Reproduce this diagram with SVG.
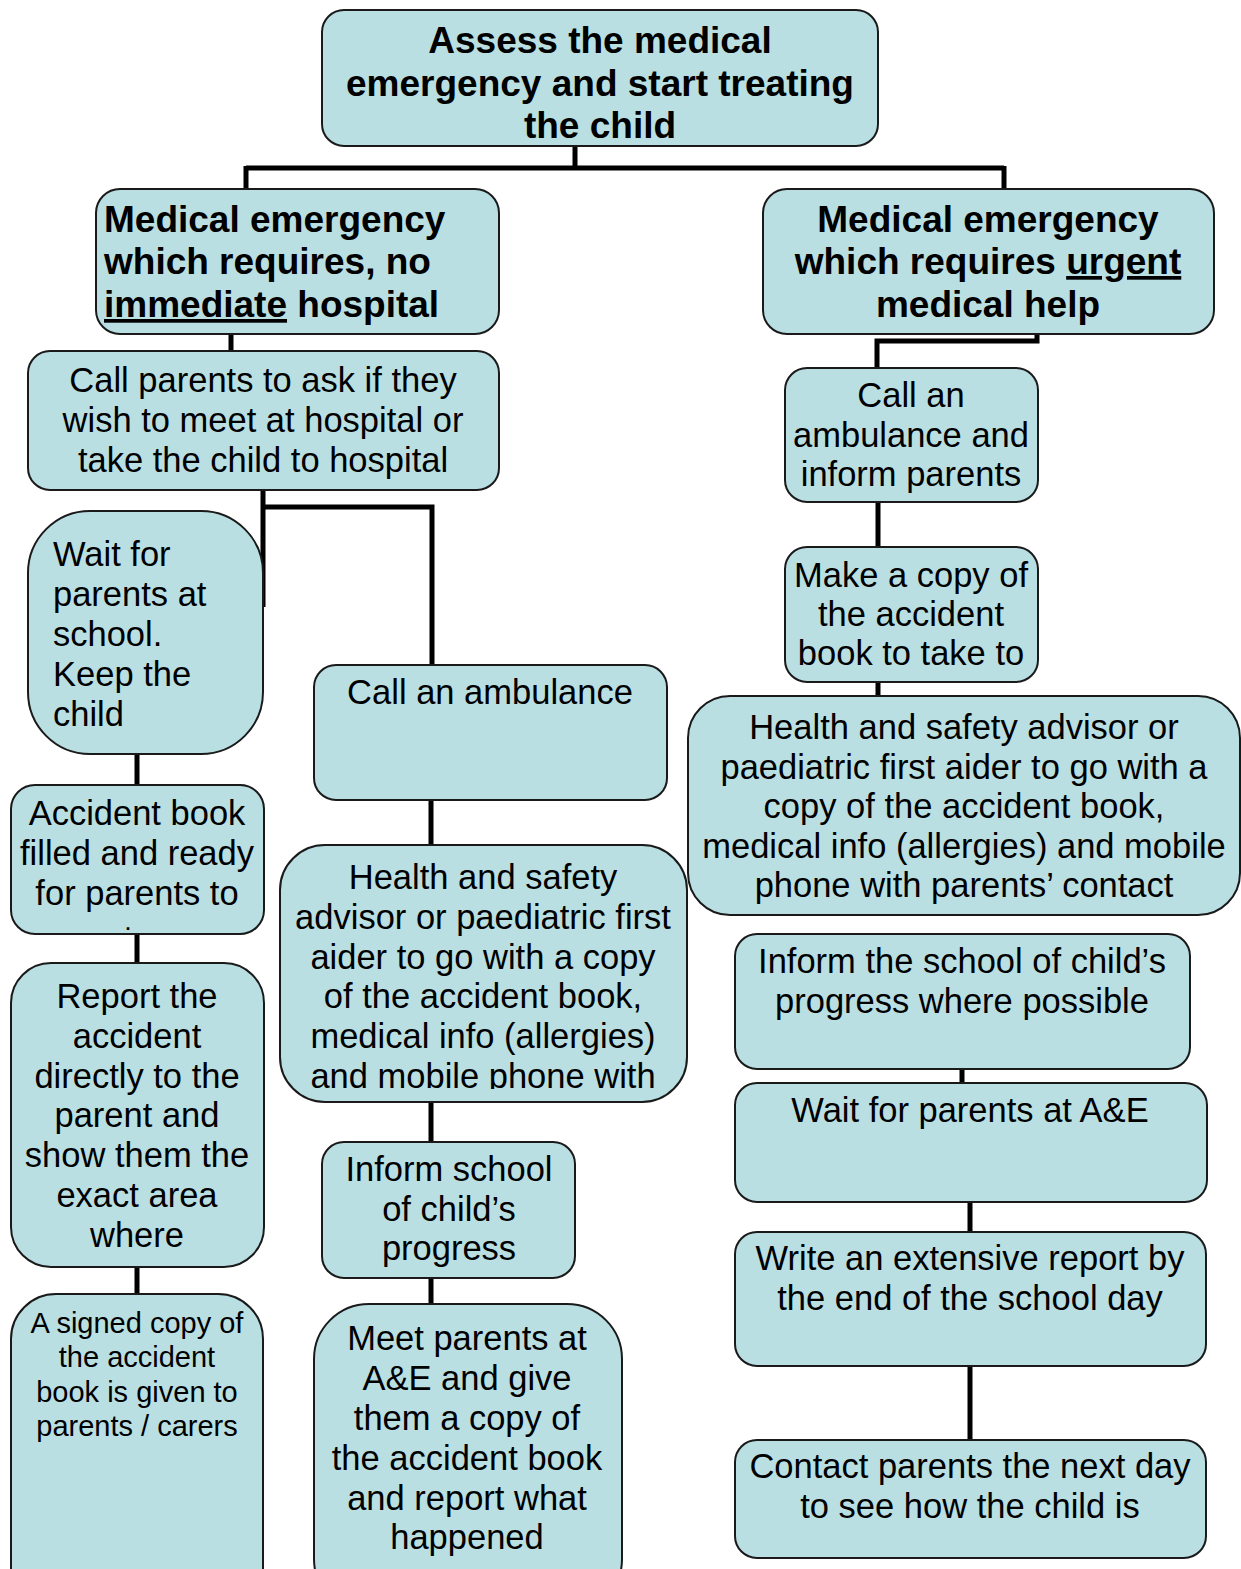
<svg xmlns="http://www.w3.org/2000/svg" width="1241" height="1569" viewBox="0 0 1241 1569">
<style>
.box{fill:#b9dfe3;stroke:#1a1a1a;stroke-width:2}
.t{font-family:"Liberation Sans",Arial,sans-serif;font-size:34.5px;fill:#000;text-anchor:middle}
.b{font-weight:bold;font-size:37px}
.l{text-anchor:start}
.s{font-size:29px}
.u{text-decoration:underline}
.c{fill:none;stroke:#000;stroke-width:5}
</style>
<defs>
<clipPath id="clipHm"><rect x="280" y="845" width="407" height="244"/></clipPath>
</defs>
<rect width="1241" height="1569" fill="#fff"/>
<g id="connectors">
<path class="c" d="M575 146V168M246 168H1004M246 166V189M1004 166V189"/>
<path class="c" d="M231 334V351"/>
<path class="c" d="M1037 334V341H877V368"/>
<path class="c" d="M263 490V607M261 507H432V665"/>
<path class="c" d="M137 754V785M137 934V963M137 1267V1294"/>
<path class="c" d="M431 800V845M431 1102V1142M431 1278V1304"/>
<path class="c" d="M878 502V547M878 682V696"/>
<path class="c" d="M962 1069V1083M970 1202V1232M970 1366V1440"/>
</g>
<g id="n-top">
<rect class="box" x="322" y="10" width="556" height="136" rx="22"/>
<text class="t b" x="600" y="53">Assess the medical</text>
<text class="t b" x="600" y="96">emergency and start treating</text>
<text class="t b" x="600" y="138">the child</text>
</g>
<g id="n-no-hospital">
<rect class="box" x="96" y="189" width="403" height="145" rx="24"/>
<text class="t b l" x="104" y="232">Medical emergency</text>
<text class="t b l" x="104" y="274">which requires, no</text>
<text class="t b l" x="104" y="317"><tspan class="u">immediate</tspan> hospital</text>
</g>
<g id="n-urgent">
<rect class="box" x="763" y="189" width="451" height="145" rx="24"/>
<text class="t b" x="988" y="232">Medical emergency</text>
<text class="t b" x="988" y="274">which requires <tspan class="u">urgent</tspan></text>
<text class="t b" x="988" y="317">medical help</text>
</g>
<g id="n-call-parents">
<rect class="box" x="28" y="351" width="471" height="139" rx="22"/>
<text class="t" x="263" y="392">Call parents to ask if they</text>
<text class="t" x="263" y="432">wish to meet at hospital or</text>
<text class="t" x="263" y="472">take the child to hospital</text>
</g>
<g id="n-wait-school">
<rect class="box" x="28" y="511" width="235" height="243" rx="62"/>
<text class="t l" x="53" y="566">Wait for</text>
<text class="t l" x="53" y="606">parents at</text>
<text class="t l" x="53" y="646">school.</text>
<text class="t l" x="53" y="686">Keep the</text>
<text class="t l" x="53" y="726">child</text>
</g>
<g id="n-accident-book">
<rect class="box" x="11" y="785" width="253" height="149" rx="24"/>
<text class="t" x="137" y="825">Accident book</text>
<text class="t" x="137" y="865">filled and ready</text>
<text class="t" x="137" y="905">for parents to</text>
<text class="t" x="128" y="929.5" style="font-size:18px;font-weight:bold">.</text>
</g>
<g id="n-report">
<rect class="box" x="11" y="963" width="253" height="304" rx="40"/>
<text class="t" x="137" y="1008">Report the</text>
<text class="t" x="137" y="1048">accident</text>
<text class="t" x="137" y="1088">directly to the</text>
<text class="t" x="137" y="1127">parent and</text>
<text class="t" x="137" y="1167">show them the</text>
<text class="t" x="137" y="1207">exact area</text>
<text class="t" x="137" y="1247">where</text>
</g>
<g id="n-signed">
<rect class="box" x="11" y="1294" width="252" height="320" rx="45"/>
<text class="t s" x="137" y="1333">A signed copy of</text>
<text class="t s" x="137" y="1367">the accident</text>
<text class="t s" x="137" y="1402">book is given to</text>
<text class="t s" x="137" y="1436">parents / carers</text>
</g>
<g id="n-call-ambulance">
<rect class="box" x="314" y="665" width="353" height="135" rx="22"/>
<text class="t" x="490" y="704">Call an ambulance</text>
</g>
<g id="n-health-mid">
<rect class="box" x="280" y="845" width="407" height="257" rx="45"/>
<g clip-path="url(#clipHm)">
<text class="t" x="483" y="889">Health and safety</text>
<text class="t" x="483" y="929">advisor or paediatric first</text>
<text class="t" x="483" y="969">aider to go with a copy</text>
<text class="t" x="483" y="1008">of the accident book,</text>
<text class="t" x="483" y="1048">medical info (allergies)</text>
<text class="t" x="483" y="1088">and mobile phone with</text>
</g>
</g>
<g id="n-inform-school-mid">
<rect class="box" x="322" y="1142" width="253" height="136" rx="22"/>
<text class="t" x="449" y="1181">Inform school</text>
<text class="t" x="449" y="1221">of child’s</text>
<text class="t" x="449" y="1260">progress</text>
</g>
<g id="n-meet-parents">
<rect class="box" x="314" y="1304" width="308" height="310" rx="55"/>
<text class="t" x="467" y="1350">Meet parents at</text>
<text class="t" x="467" y="1390">A&amp;E and give</text>
<text class="t" x="467" y="1430">them a copy of</text>
<text class="t" x="467" y="1470">the accident book</text>
<text class="t" x="467" y="1510">and report what</text>
<text class="t" x="467" y="1549">happened</text>
</g>
<g id="n-call-inform">
<rect class="box" x="785" y="368" width="253" height="134" rx="22"/>
<text class="t" x="911" y="407">Call an</text>
<text class="t" x="911" y="447">ambulance and</text>
<text class="t" x="911" y="486">inform parents</text>
</g>
<g id="n-make-copy">
<rect class="box" x="785" y="547" width="253" height="135" rx="22"/>
<text class="t" x="911" y="587">Make a copy of</text>
<text class="t" x="911" y="626">the accident</text>
<text class="t" x="911" y="665">book to take to</text>
</g>
<g id="n-health-right">
<rect class="box" x="688" y="696" width="552" height="219" rx="42"/>
<text class="t" x="964" y="739">Health and safety advisor or</text>
<text class="t" x="964" y="779">paediatric first aider to go with a</text>
<text class="t" x="964" y="818">copy of the accident book,</text>
<text class="t" x="964" y="858">medical info (allergies) and mobile</text>
<text class="t" x="964" y="897">phone with parents’ contact</text>
</g>
<g id="n-inform-school-right">
<rect class="box" x="735" y="934" width="455" height="135" rx="22"/>
<text class="t" x="962" y="973">Inform the school of child’s</text>
<text class="t" x="962" y="1013">progress where possible</text>
</g>
<g id="n-wait-ae">
<rect class="box" x="735" y="1083" width="472" height="119" rx="22"/>
<text class="t" x="970" y="1122">Wait for parents at A&amp;E</text>
</g>
<g id="n-write-report">
<rect class="box" x="735" y="1232" width="471" height="134" rx="22"/>
<text class="t" x="970" y="1270">Write an extensive report by</text>
<text class="t" x="970" y="1310">the end of the school day</text>
</g>
<g id="n-contact">
<rect class="box" x="735" y="1440" width="471" height="118" rx="22"/>
<text class="t" x="970" y="1478">Contact parents the next day</text>
<text class="t" x="970" y="1518">to see how the child is</text>
</g>
</svg>
